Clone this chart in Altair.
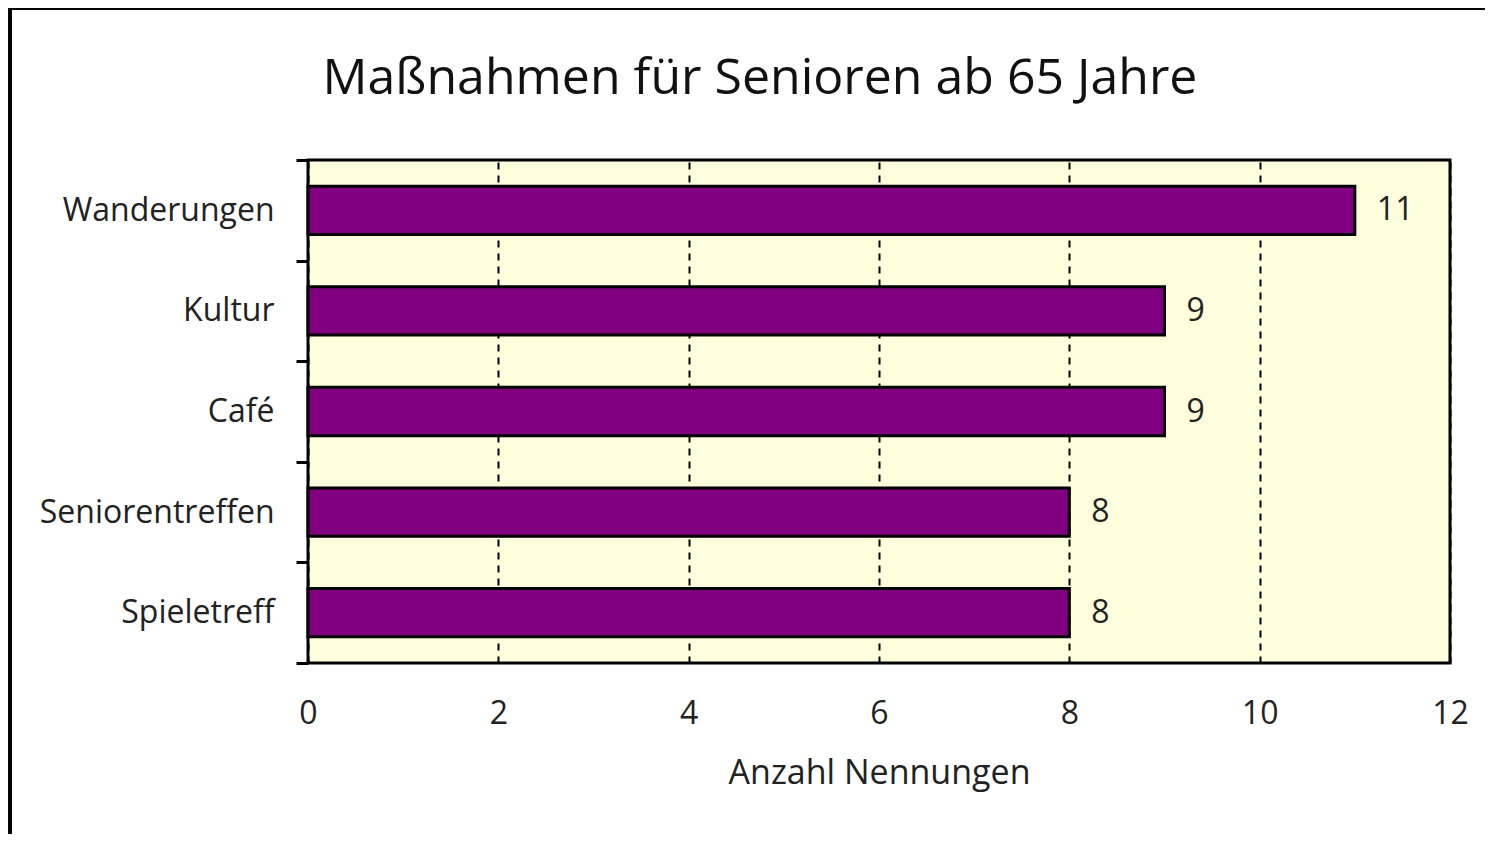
import altair as alt
import pandas as pd

categories = ["Wanderungen", "Kultur", "Café", "Seniorentreffen", "Spieletreff"]
values = [11, 9, 9, 8, 8]
x_ticks = [0, 2, 4, 6, 8, 10, 12]

df = pd.DataFrame({"Maßnahme": categories, "Anzahl": values})

FONT = "Open Sans"

y_enc = alt.Y(
    "Maßnahme:N",
    sort=categories,
    scale=alt.Scale(paddingInner=0, paddingOuter=0),
    axis=alt.Axis(
        title=None,
        domain=False,
        ticks=True,
        tickBand="extent",
        tickSize=12,
        tickWidth=3,
        tickColor="black",
        labelPadding=22,
        labelFontSize=32,
        labelFont=FONT,
        labelColor="#222222",
        labelLimit=400,
        grid=False,
    ),
)

x_enc = alt.X(
    "Anzahl:Q",
    scale=alt.Scale(domain=[0, 12], nice=False),
    axis=alt.Axis(
        title="Anzahl Nennungen",
        values=x_ticks,
        format="d",
        labelFlush=False,
        ticks=False,
        domain=False,
        labelPadding=35,
        labelFontSize=32,
        labelFont=FONT,
        labelColor="#222222",
        titleFontSize=34,
        titleFont=FONT,
        titleFontWeight="normal",
        titleColor="#222222",
        titlePadding=27,
        grid=True,
        gridColor="black",
        gridDash=[7, 6],
        gridWidth=2,
        gridOpacity=1,
    ),
)

bars = alt.Chart(df).mark_bar(
    color="#800080", stroke="black", strokeWidth=3,
    height=alt.RelativeBandSize(0.48),
).encode(x=x_enc, y=y_enc)

labels = alt.Chart(df).mark_text(
    align="left", baseline="middle", dx=22, fontSize=32, font=FONT, color="#222222"
).encode(
    x=alt.X("Anzahl:Q", scale=alt.Scale(domain=[0, 12], nice=False)),
    y=alt.Y("Maßnahme:N", sort=categories),
    text="Anzahl:Q",
)

frame = alt.Chart(df).mark_rect(
    fill=None, stroke="black", strokeWidth=3, clip=False
).encode(
    x=alt.value(-298), x2=alt.value(1240), y=alt.value(-152), y2=alt.value(720)
)

chart = alt.layer(frame, bars, labels).properties(
    width=1142,
    height=503,
    autosize=alt.AutoSizeParams(type="none"),
    padding={"left": 300, "top": 152, "right": 35, "bottom": 171},
    background="white",
    title=alt.TitleParams(
        "Maßnahmen für Senioren ab 65 Jahre",
        fontSize=50,
        font=FONT,
        fontWeight="normal",
        color="#111111",
        anchor="middle",
        dx=-119,
        offset=-97,
    ),
).configure_view(
    fill="#FFFFDD", stroke="black", strokeWidth=3
)

chart.save("out.html", embed_options={"renderer": "svg", "actions": False})
